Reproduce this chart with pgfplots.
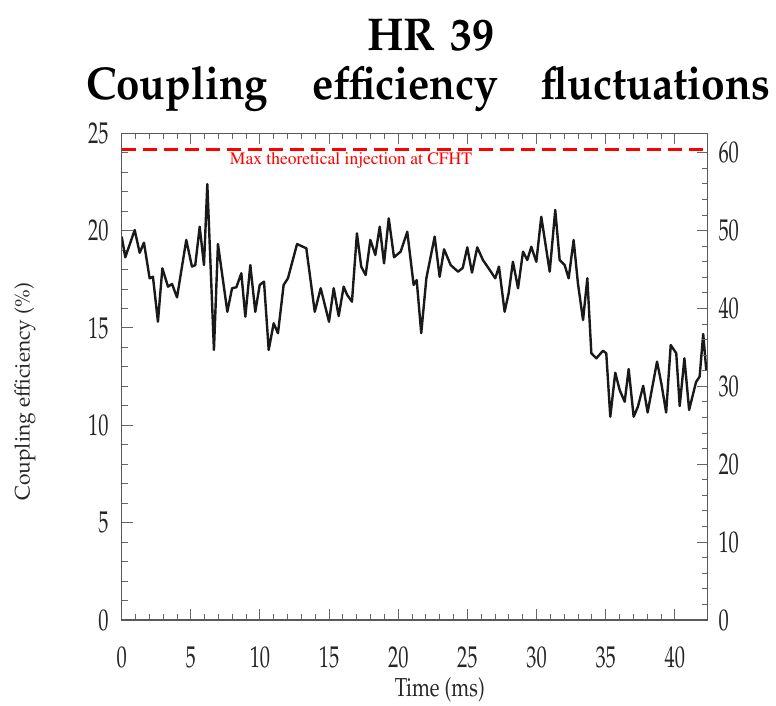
\documentclass[border=0pt]{standalone}
\usepackage[T1]{fontenc}
\usepackage{mathpazo}
\usepackage{graphicx}
\usepackage{pgfplots}
\pgfplotsset{compat=1.18}
\pgfplotstableread{
t y
0.00 19.69
0.26 18.63
0.94 20.03
1.30 18.86
1.61 19.38
2.02 17.55
2.26 17.63
2.62 15.32
2.94 18.06
3.35 17.12
3.64 17.26
4.00 16.57
4.67 19.52
5.08 18.15
5.32 18.23
5.64 20.20
5.95 18.23
6.19 22.39
6.67 13.87
6.96 19.31
7.64 15.83
7.98 17.04
8.29 17.09
8.65 17.81
8.94 15.58
9.30 18.23
9.66 15.83
9.98 17.21
10.29 17.38
10.63 13.87
10.99 15.24
11.30 14.73
11.71 17.21
12.02 17.55
12.68 19.31
13.35 19.09
13.96 15.83
14.39 17.04
14.99 15.32
15.33 17.04
15.69 15.61
16.05 17.12
16.31 16.69
16.65 16.35
17.01 19.86
17.32 18.15
17.64 17.72
17.98 19.52
18.34 18.75
18.66 20.20
18.97 18.32
19.31 20.63
19.69 18.63
20.17 18.92
20.65 19.94
21.11 17.21
21.33 17.46
21.66 14.73
22.03 17.55
22.63 19.69
22.99 17.63
23.31 19.04
23.79 18.23
24.32 17.89
24.66 18.08
24.99 19.14
25.33 17.84
25.71 19.14
26.12 18.49
26.61 17.98
27.01 17.55
27.28 18.15
27.69 15.83
27.98 16.78
28.29 18.40
28.66 17.04
29.02 18.92
29.33 18.49
29.62 19.17
29.98 18.40
30.34 20.71
30.95 17.89
31.35 21.06
31.67 18.49
32.03 18.23
32.32 17.55
32.68 19.52
32.99 17.29
33.36 15.41
33.67 17.55
33.96 13.70
34.32 13.44
34.80 13.83
35.04 13.70
35.33 10.44
35.69 12.70
36.01 11.81
36.37 11.21
36.66 12.89
37.02 10.44
37.33 10.96
37.71 12.03
38.03 10.66
38.71 13.27
39.02 12.16
39.37 10.66
39.70 14.12
40.10 13.70
40.35 10.99
40.69 13.44
41.03 10.79
41.53 12.22
41.79 12.50
42.05 14.69
42.27 12.84
}\datatable
\begin{document}
\begin{tikzpicture}[x=1pt,y=1pt]
\path[use as bounding box] (0,0) rectangle (776,-706);
% title
\node[anchor=base, inner sep=0pt] at (431,-51) {\resizebox{128pt}{\height}{\fontsize{46}{46}\selectfont\bfseries HR\hspace{0.35em}39}};
\node[anchor=base west, inner sep=0pt] at (86,-100) {\resizebox{182pt}{\height}{\fontsize{46}{46}\selectfont\bfseries Coupling}};
\node[anchor=base west, inner sep=0pt] at (312,-100) {\resizebox{186pt}{\height}{\fontsize{46}{46}\selectfont\bfseries efficiency}};
\node[anchor=base west, inner sep=0pt] at (541,-100) {\resizebox{229pt}{\height}{\fontsize{46}{46}\selectfont\bfseries fluctuations}};
\begin{axis}[
  at={(121.7pt,-620pt)}, anchor=south west, scale only axis,
  width=585.8pt, height=486.75pt,
  xmin=0, xmax=42.36, ymin=0, ymax=25,
  xtick={0,5,...,40}, ytick={0,5,...,25},
  xticklabels={0,5,10,15,20,25,30,35,40},
  yticklabels={0,5,10,15,20,25},
  minor x tick num=4, minor y tick num=4,
  tick align=inside, xtick pos=both, ytick pos=left,
  xticklabel pos=lower,
  major tick length=11pt, minor tick length=6pt,
  axis line style={draw=black!65, line width=1.4pt},
  every tick/.style={black!60, line width=1pt},
  tick label style={font=\fontsize{30}{30}\selectfont, inner sep=0pt, text=black!85},
  xticklabel style={xscale=0.68, yshift=-27pt},
  yticklabel style={xscale=0.68, xshift=-19pt},
  xlabel={Time (ms)},
  xlabel style={font=\fontsize{26}{26}\selectfont, xscale=0.78, inner sep=0pt, text=black!85,
    at={(axis description cs:0.543,0)}, anchor=base, yshift=-76pt},
  ylabel={Coupling efficiency (\%)},
  ylabel style={font=\fontsize{21}{21}\selectfont, inner sep=0pt, text=black!85,
    at={(axis description cs:-0.165,0.469)}, anchor=center},
  clip=true,
]
\addplot[red, line width=3pt, dash pattern=on 14pt off 7pt] coordinates {(0,24.15) (42.36,24.15)};
\addplot[black!90, line width=2.4pt, line join=round] table {\datatable};
\node[text=red, anchor=base, inner sep=0pt, font=\fontfamily{ptm}\fontsize{17.5}{17.5}\selectfont] at (axis cs:16.58,23.42) {Max theoretical injection at CFHT};
\end{axis}
\begin{axis}[
  at={(121.7pt,-620pt)}, anchor=south west, scale only axis,
  width=585.8pt, height=486.75pt,
  xmin=0, xmax=42.36, ymin=0, ymax=62.5,
  xtick=\empty,
  ytick={0,10,...,60},
  yticklabels={0,10,20,30,40,50,60},
  minor y tick num=4,
  tick align=inside, ytick pos=right, yticklabel pos=right,
  major tick length=11pt, minor tick length=6pt,
  axis line style={draw=black!65, line width=1.4pt},
  every tick/.style={black!60, line width=1pt},
  tick label style={font=\fontsize{30}{30}\selectfont, inner sep=0pt, text=black!85},
  yticklabel style={xscale=0.68, xshift=16pt},
]
\end{axis}
\end{tikzpicture}
\end{document}
